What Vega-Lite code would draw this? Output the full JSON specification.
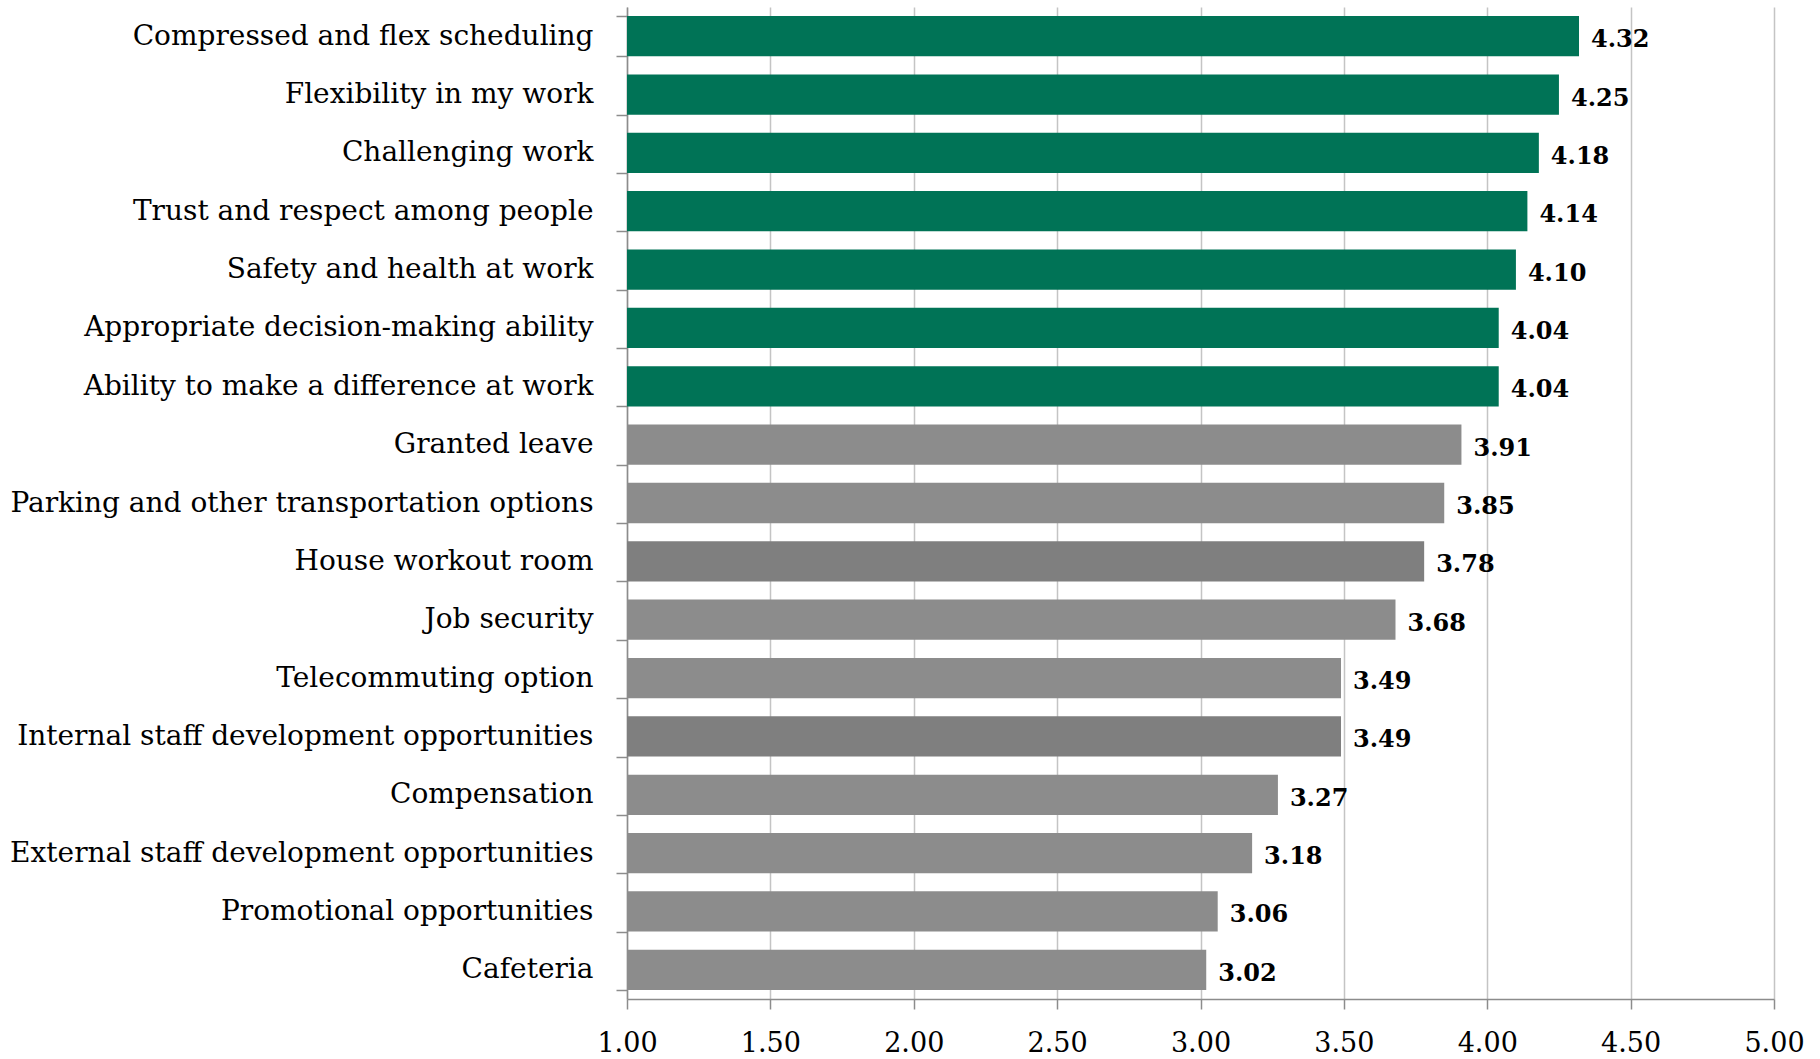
{
  "$schema": "https://vega.github.io/schema/vega-lite/v6.json",
  "width": 1147,
  "height": 992,
  "autosize": {"type": "none"},
  "padding": {"left": 627, "top": 7, "right": 46, "bottom": 60},
  "background": "white",
  "config": {"view": {"stroke": null}, "font": "DejaVu Serif"},
  "data": {"values": [
    {"item": "Compressed and flex scheduling", "value": 4.32, "group": "green"},
    {"item": "Flexibility in my work", "value": 4.25, "group": "green"},
    {"item": "Challenging work", "value": 4.18, "group": "green"},
    {"item": "Trust and respect among people", "value": 4.14, "group": "green"},
    {"item": "Safety and health at work", "value": 4.10, "group": "green"},
    {"item": "Appropriate decision-making ability", "value": 4.04, "group": "green"},
    {"item": "Ability to make a difference at work", "value": 4.04, "group": "green"},
    {"item": "Granted leave", "value": 3.91, "group": "gray"},
    {"item": "Parking and other transportation options", "value": 3.85, "group": "gray"},
    {"item": "House workout room", "value": 3.78, "group": "dark"},
    {"item": "Job security", "value": 3.68, "group": "gray"},
    {"item": "Telecommuting option", "value": 3.49, "group": "gray"},
    {"item": "Internal staff development opportunities", "value": 3.49, "group": "dark"},
    {"item": "Compensation", "value": 3.27, "group": "gray"},
    {"item": "External staff development opportunities", "value": 3.18, "group": "gray"},
    {"item": "Promotional opportunities", "value": 3.06, "group": "gray"},
    {"item": "Cafeteria", "value": 3.02, "group": "gray"}
  ]},
  "encoding": {
    "y": {
      "field": "item", "type": "nominal", "sort": null,
      "scale": {"paddingInner": 0.31, "paddingOuter": 0.155},
      "axis": {
        "title": null, "tickBand": "extent", "grid": false,
        "domainColor": "#8c8c8c", "domainWidth": 1.5,
        "tickColor": "#8c8c8c", "tickWidth": 1.5, "tickSize": 11,
        "labelPadding": 23, "labelFontSize": 28, "labelColor": "#000000",
        "labelFont": "DejaVu Serif", "labelLimit": 700
      }
    },
    "x": {
      "field": "value", "type": "quantitative",
      "scale": {"domain": [1, 5], "nice": false, "zero": false},
      "axis": {
        "title": null, "values": [1, 1.5, 2, 2.5, 3, 3.5, 4, 4.5, 5], "format": ".2f",
        "grid": true, "gridColor": "#c4c4c4", "gridWidth": 1.5,
        "domainColor": "#8c8c8c", "domainWidth": 1.5,
        "tickColor": "#8c8c8c", "tickWidth": 1.5, "tickSize": 10,
        "labelAlign": "center", "labelFlush": false,
        "labelPadding": 21, "labelFontSize": 27, "labelColor": "#000000",
        "labelFont": "DejaVu Serif"
      }
    }
  },
  "layer": [
    {
      "mark": {"type": "bar"},
      "encoding": {
        "x2": {"datum": 1},
        "color": {
          "field": "group", "type": "nominal", "legend": null,
          "scale": {"domain": ["green", "gray", "dark"], "range": ["#007356", "#8c8c8c", "#7f7f7f"]}
        }
      }
    },
    {
      "mark": {"type": "text", "align": "left", "baseline": "middle", "dx": 12, "dy": 4, "fontSize": 24, "fontWeight": "bold", "font": "DejaVu Serif", "color": "#000000"},
      "encoding": {
        "text": {"field": "value", "type": "quantitative", "format": ".2f"}
      }
    }
  ]
}
